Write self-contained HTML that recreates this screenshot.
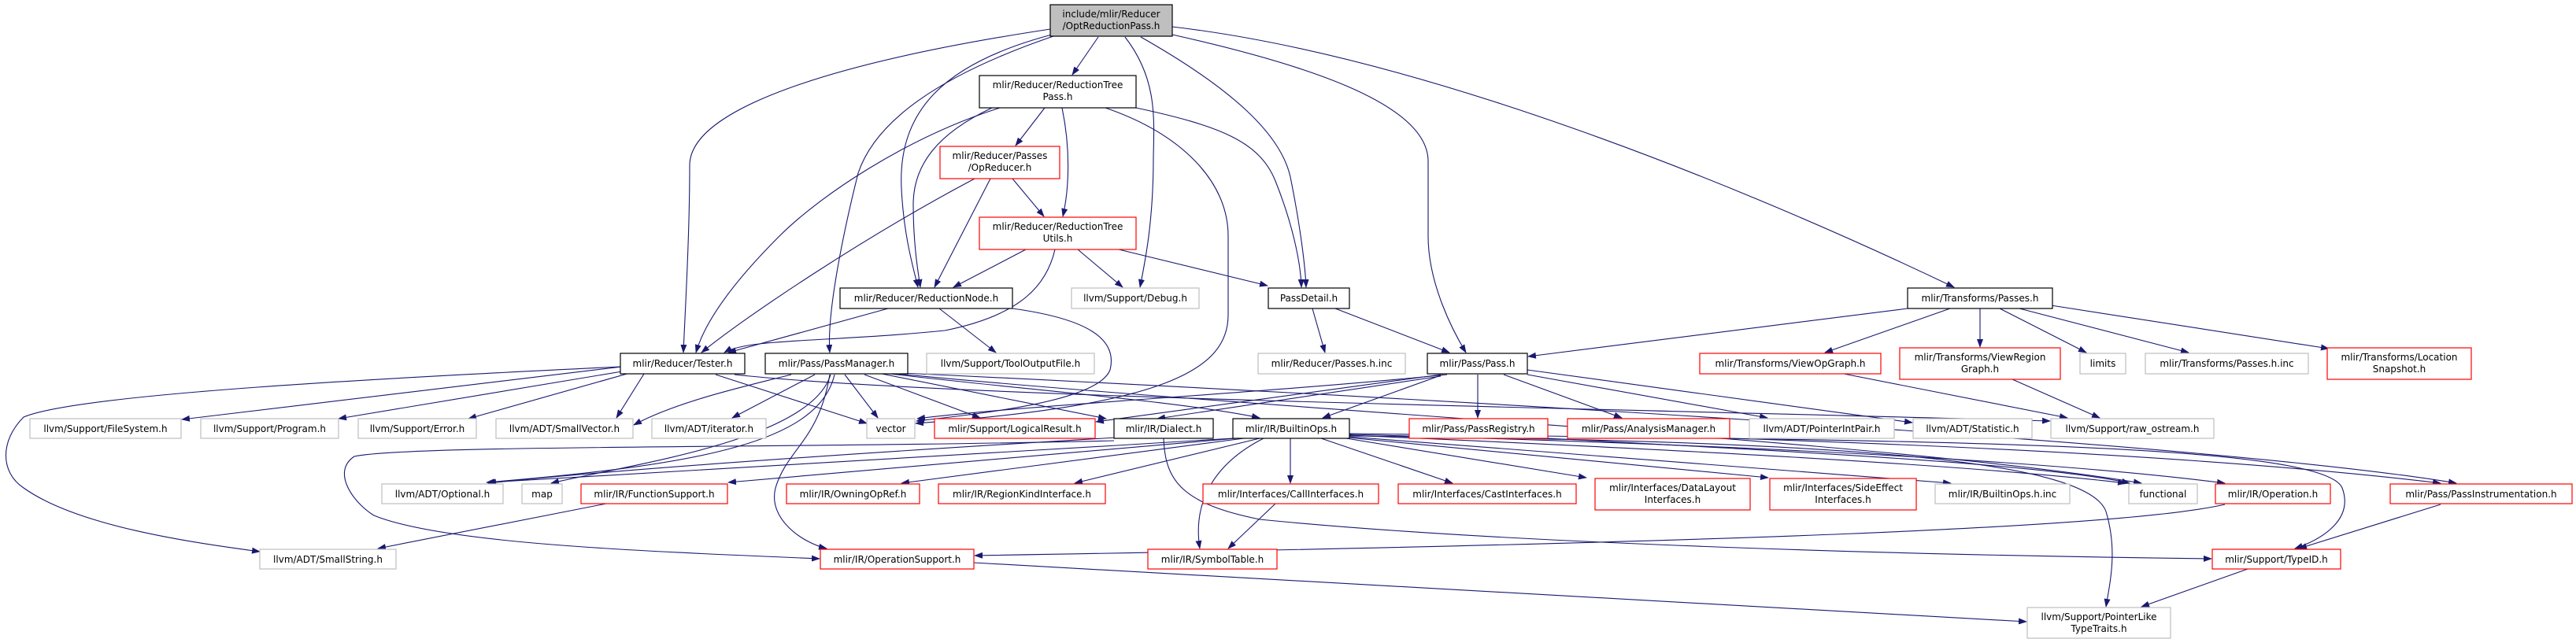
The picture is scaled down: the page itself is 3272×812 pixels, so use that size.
<!DOCTYPE html>
<html><head><meta charset="utf-8"><style>
html,body{margin:0;padding:0;background:#fff;}
svg{display:block;}
text{font-family:"DejaVu Sans","Liberation Sans",sans-serif;font-size:12px;fill:#000;text-anchor:middle;}
.e{fill:none;stroke:#191970;stroke-width:1.1;}
.k{fill:#fff;stroke:#000;stroke-width:1.2;}
.r{fill:#fff;stroke:#ff0000;stroke-width:1.2;}
.g{fill:#fff;stroke:#bfbfbf;stroke-width:1.2;}
</style></head><body>
<svg width="3272" height="812" viewBox="0 0 3272 812" xmlns="http://www.w3.org/2000/svg">
<defs><marker id="a" markerWidth="11" markerHeight="8" refX="10" refY="4" orient="auto" markerUnits="userSpaceOnUse"><path d="M0,0 L11,4 L0,8 z" fill="#191970"/></marker></defs>
<g class="e" marker-end="url(#a)">
<!-- root -->
<path d="M1334,37 C1050,80 876,140 876,210 C876,300 870,400 868,448"/>
<path d="M1336,44 C1200,80 1140,140 1145,240 C1148,300 1160,340 1166,365"/>
<path d="M1338,46 C1180,100 1110,160 1090,220 C1070,300 1050,400 1054,448"/>
<path d="M1395,47 L1362,95"/>
<path d="M1429,47 C1470,100 1466,150 1465,200 C1465,280 1455,330 1448,365"/>
<path d="M1449,47 C1560,110 1630,170 1640,230 C1652,290 1658,340 1659,365"/>
<path d="M1489,44 C1650,80 1814,130 1814,205 L1814,300 C1814,360 1845,420 1862,448"/>
<path d="M1489,34 C1800,70 2200,230 2482,365"/>
<!-- RTP -->
<path d="M1270,137 C1150,175 1040,250 990,300 C930,360 895,410 884,448"/>
<path d="M1260,137 C1190,170 1160,210 1160,260 C1160,310 1166,345 1169,365"/>
<path d="M1327,137 L1290,185"/>
<path d="M1349,137 C1360,190 1358,240 1350,275"/>
<path d="M1443,137 C1550,160 1600,180 1620,230 C1640,280 1652,330 1653,365"/>
<path d="M1404,137 C1500,170 1560,230 1560,300 L1560,400 C1560,470 1480,515 1163,538"/>
<!-- OpReducer -->
<path d="M1238,227 C1100,300 950,400 891,448"/>
<path d="M1258,227 L1187,365"/>
<path d="M1286,227 L1326,275"/>
<!-- RTU -->
<path d="M1303,317 L1211,365"/>
<path d="M1340,317 C1330,360 1300,400 1200,420 C1050,435 950,430 920,448"/>
<path d="M1369,317 L1426,365"/>
<path d="M1421,317 L1610,363"/>
<!-- RN -->
<path d="M1128,392 L925,448"/>
<path d="M1193,392 L1265,448"/>
<path d="M1286,392 C1380,405 1420,430 1410,470 C1395,510 1250,525 1164,535"/>
<!-- PassDetail -->
<path d="M1667,392 L1683,448"/>
<path d="M1696,392 L1841,448"/>
<!-- Transforms/Passes -->
<path d="M2423,392 L1941,453"/>
<path d="M2477,392 L2318,448"/>
<path d="M2515,392 L2515,441"/>
<path d="M2540,392 L2650,448"/>
<path d="M2565,392 L2780,448"/>
<path d="M2605,388 L2958,443"/>
<path d="M2342,475 L2626,531"/>
<path d="M2556,482 L2667,531"/>
<!-- Tester -->
<path d="M790,466 L231,533"/>
<path d="M790,472 L430,532"/>
<path d="M800,474 L595,532"/>
<path d="M818,475 L783,531"/>
<path d="M788,466 C500,480 100,500 30,530 C0,560 0,600 30,620 C100,670 250,690 330,701"/>
<path d="M909,476 L1101,538"/>
<path d="M933,476 C1200,505 2000,518 2604,535"/>
<!-- PassManager -->
<path d="M1005,476 C950,490 860,510 805,540"/>
<path d="M1035,476 L930,531"/>
<path d="M1073,476 L1115,531"/>
<path d="M1098,476 L1245,531"/>
<path d="M1120,475 L1405,532"/>
<path d="M1130,475 C1300,495 1500,510 1600,531"/>
<path d="M1060,476 C1040,560 900,590 618,613"/>
<path d="M1055,476 C1030,560 800,590 700,614"/>
<path d="M1054,476 C1040,560 1000,570 985,620 C975,660 1020,690 1050,697"/>
<path d="M1140,475 C1600,520 2400,560 2720,614"/>
<path d="M1145,474 C1700,500 2800,560 3120,614"/>
<!-- Pass.h -->
<path d="M1838,476 C1600,500 1300,515 1165,532"/>
<path d="M1830,476 L1392,536"/>
<path d="M1830,478 L1470,532"/>
<path d="M1833,476 L1680,531"/>
<path d="M1877,476 L1877,531"/>
<path d="M1910,476 L2060,531"/>
<path d="M1940,476 L2245,531"/>
<path d="M1940,470 L2429,537"/>
<!-- BuiltinOps -->
<path d="M1566,557 C1200,580 800,600 620,613"/>
<path d="M1570,557 L925,613"/>
<path d="M1580,557 L1145,614"/>
<path d="M1600,557 L1365,614"/>
<path d="M1639,557 L1639,614"/>
<path d="M1678,557 L1845,614"/>
<path d="M1710,557 L2015,607"/>
<path d="M1712,556 L2246,607"/>
<path d="M1714,555 L2478,614"/>
<path d="M1714,553 C2100,570 2500,590 2700,614"/>
<path d="M1714,552 C2200,565 2600,585 2826,614"/>
<path d="M1605,557 C1540,590 1515,640 1524,697"/>
<path d="M1714,554 C2300,560 2650,580 2675,650 C2690,700 2680,740 2675,771"/>
<path d="M1714,551 C2400,560 2950,560 2975,620 C2990,660 2950,685 2915,697"/>
<!-- Dialect -->
<path d="M1478,557 C1480,610 1500,640 1600,660 C1900,690 2400,705 2809,710"/>
<path d="M1415,560 C1000,570 520,565 450,580 C420,600 450,640 475,655 C560,690 800,700 1041,710"/>
<path d="M1418,556 C1100,575 800,595 620,614"/>
<!-- misc -->
<path d="M1620,640 L1560,697"/>
<path d="M770,640 L480,697"/>
<path d="M2826,641 C2700,670 2200,690 1238,706"/>
<path d="M3100,641 L2920,697"/>
<path d="M2855,723 L2720,771"/>
<path d="M1237,715 L2574,790"/>
<path d="M1966,557 C2300,575 2600,590 2705,614"/>
<path d="M2197,557 C2600,570 2900,590 3100,614"/>
</g>
<!-- nodes -->
<rect x="1334" y="6" width="155" height="40" fill="#bfbfbf" stroke="#000" stroke-width="1.2"/>
<text x="1411.5" y="22">include/mlir/Reducer</text><text x="1411.5" y="37">/OptReductionPass.h</text>
<rect class="k" x="1244" y="96" width="199" height="41"/><text x="1343.5" y="112">mlir/Reducer/ReductionTree</text><text x="1343.5" y="127">Pass.h</text>
<rect class="r" x="1194" y="186" width="152" height="41"/><text x="1270" y="202">mlir/Reducer/Passes</text><text x="1270" y="217">/OpReducer.h</text>
<rect class="r" x="1244" y="276" width="199" height="41"/><text x="1343.5" y="292">mlir/Reducer/ReductionTree</text><text x="1343.5" y="307">Utils.h</text>
<rect class="k" x="1067" y="366" width="219" height="26"/><text x="1176.5" y="383">mlir/Reducer/ReductionNode.h</text>
<rect class="g" x="1361" y="366" width="162" height="26"/><text x="1442" y="383">llvm/Support/Debug.h</text>
<rect class="k" x="1611" y="366" width="103" height="26"/><text x="1662.5" y="383">PassDetail.h</text>
<rect class="k" x="2423" y="366" width="184" height="26"/><text x="2515" y="383">mlir/Transforms/Passes.h</text>
<rect class="k" x="788" y="449" width="158" height="26"/><text x="867" y="466">mlir/Reducer/Tester.h</text>
<rect class="k" x="972" y="449" width="181" height="26"/><text x="1062.5" y="466">mlir/Pass/PassManager.h</text>
<rect class="g" x="1177" y="449" width="213" height="26"/><text x="1283.5" y="466">llvm/Support/ToolOutputFile.h</text>
<rect class="g" x="1598" y="449" width="187" height="26"/><text x="1691.5" y="466">mlir/Reducer/Passes.h.inc</text>
<rect class="k" x="1813" y="449" width="127" height="26"/><text x="1876.5" y="466">mlir/Pass/Pass.h</text>
<rect class="r" x="2159" y="449" width="230" height="26"/><text x="2274" y="466">mlir/Transforms/ViewOpGraph.h</text>
<rect class="r" x="2413" y="442" width="204" height="40"/><text x="2515" y="458">mlir/Transforms/ViewRegion</text><text x="2515" y="473">Graph.h</text>
<rect class="g" x="2642" y="449" width="58" height="26"/><text x="2671" y="466">limits</text>
<rect class="g" x="2725" y="449" width="207" height="26"/><text x="2828.5" y="466">mlir/Transforms/Passes.h.inc</text>
<rect class="r" x="2956" y="442" width="183" height="40"/><text x="3047.5" y="458">mlir/Transforms/Location</text><text x="3047.5" y="473">Snapshot.h</text>
<rect class="g" x="38" y="532" width="192" height="25"/><text x="134" y="549">llvm/Support/FileSystem.h</text>
<rect class="g" x="255" y="532" width="175" height="25"/><text x="342.5" y="549">llvm/Support/Program.h</text>
<rect class="g" x="455" y="532" width="150" height="25"/><text x="530" y="549">llvm/Support/Error.h</text>
<rect class="g" x="630" y="532" width="174" height="25"/><text x="717" y="549">llvm/ADT/SmallVector.h</text>
<rect class="g" x="828" y="532" width="145" height="25"/><text x="900.5" y="549">llvm/ADT/iterator.h</text>
<rect class="g" x="1101" y="532" width="61" height="25"/><text x="1131.5" y="549">vector</text>
<rect class="r" x="1187" y="532" width="204" height="25"/><text x="1289" y="549">mlir/Support/LogicalResult.h</text>
<rect class="k" x="1415" y="532" width="126" height="25"/><text x="1478" y="549">mlir/IR/Dialect.h</text>
<rect class="k" x="1566" y="532" width="148" height="25"/><text x="1640" y="549">mlir/IR/BuiltinOps.h</text>
<rect class="r" x="1790" y="532" width="176" height="25"/><text x="1878" y="549">mlir/Pass/PassRegistry.h</text>
<rect class="r" x="1991" y="532" width="206" height="25"/><text x="2094" y="549">mlir/Pass/AnalysisManager.h</text>
<rect class="g" x="2222" y="532" width="184" height="25"/><text x="2314" y="549">llvm/ADT/PointerIntPair.h</text>
<rect class="g" x="2430" y="532" width="151" height="25"/><text x="2505.5" y="549">llvm/ADT/Statistic.h</text>
<rect class="g" x="2605" y="532" width="207" height="25"/><text x="2708.5" y="549">llvm/Support/raw_ostream.h</text>
<rect class="g" x="485" y="615" width="154" height="25"/><text x="562" y="632">llvm/ADT/Optional.h</text>
<rect class="g" x="663" y="615" width="51" height="25"/><text x="688.5" y="632">map</text>
<rect class="r" x="738" y="615" width="186" height="25"/><text x="831" y="632">mlir/IR/FunctionSupport.h</text>
<rect class="r" x="999" y="615" width="169" height="25"/><text x="1083.5" y="632">mlir/IR/OwningOpRef.h</text>
<rect class="r" x="1192" y="615" width="212" height="25"/><text x="1298" y="632">mlir/IR/RegionKindInterface.h</text>
<rect class="r" x="1528" y="615" width="223" height="25"/><text x="1639.5" y="632">mlir/Interfaces/CallInterfaces.h</text>
<rect class="r" x="1776" y="615" width="226" height="25"/><text x="1889" y="632">mlir/Interfaces/CastInterfaces.h</text>
<rect class="r" x="2026" y="608" width="197" height="40"/><text x="2124.5" y="624">mlir/Interfaces/DataLayout</text><text x="2124.5" y="639">Interfaces.h</text>
<rect class="r" x="2248" y="608" width="186" height="40"/><text x="2341" y="624">mlir/Interfaces/SideEffect</text><text x="2341" y="639">Interfaces.h</text>
<rect class="g" x="2458" y="615" width="171" height="25"/><text x="2543.5" y="632">mlir/IR/BuiltinOps.h.inc</text>
<rect class="g" x="2704" y="615" width="87" height="25"/><text x="2747.5" y="632">functional</text>
<rect class="r" x="2814" y="615" width="146" height="25"/><text x="2887" y="632">mlir/IR/Operation.h</text>
<rect class="r" x="3036" y="615" width="231" height="25"/><text x="3151.5" y="632">mlir/Pass/PassInstrumentation.h</text>
<rect class="g" x="330" y="698" width="173" height="25"/><text x="416.5" y="715">llvm/ADT/SmallString.h</text>
<rect class="r" x="1042" y="698" width="195" height="25"/><text x="1139.5" y="715">mlir/IR/OperationSupport.h</text>
<rect class="r" x="1458" y="698" width="164" height="25"/><text x="1540" y="715">mlir/IR/SymbolTable.h</text>
<rect class="r" x="2810" y="698" width="163" height="25"/><text x="2891.5" y="715">mlir/Support/TypeID.h</text>
<rect class="g" x="2575" y="772" width="182" height="39"/><text x="2666" y="788">llvm/Support/PointerLike</text><text x="2666" y="803">TypeTraits.h</text>
</svg>
</body></html>
